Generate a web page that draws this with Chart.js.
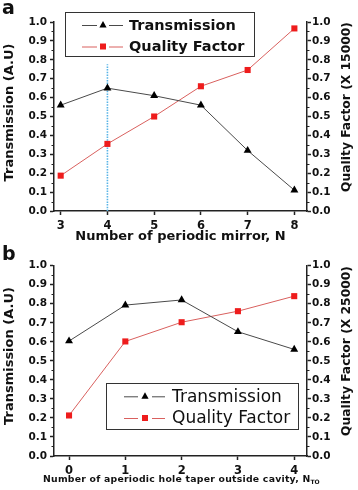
<!DOCTYPE html>
<html>
<head>
<meta charset="utf-8">
<script src="https://cdn.jsdelivr.net/npm/chart.js@4.4.1/dist/chart.umd.min.js"></script>
<style>
  html, body { margin:0; padding:0; background:#fff; }
  #wrap { position:relative; width:358px; height:490px; overflow:hidden; font-family:"DejaVu Sans", sans-serif; }
  .panel { position:absolute; left:0; width:358px; height:245px; }
  .lbl { position:absolute; font-weight:bold; font-size:19px; color:#111; line-height:1; }
  #xtitleB { position:absolute; left:43px; top:474px; font-weight:bold; font-size:9.3px; letter-spacing:0.25px; color:#111; white-space:nowrap; line-height:1; }
  #xtitleB sub { font-size:6px; vertical-align:-2px; letter-spacing:0; }
</style>
</head>
<body>
<div id="wrap">
  <div class="panel" style="top:0"><canvas id="cA" width="358" height="245"></canvas></div>
  <div class="panel" style="top:245px"><canvas id="cB" width="358" height="245"></canvas></div>
  <div class="lbl" style="left:2px;top:-2px">a</div>
  <div class="lbl" style="left:2px;top:244px">b</div>
  <div id="xtitleB">Number of aperiodic hole taper outside cavity, N<sub>TO</sub></div>
</div>
<script>
// ---- data ----
const nMirror = [3, 4, 5, 6, 7, 8];
const transA  = [0.56, 0.65, 0.61, 0.56, 0.32, 0.11];
const qualA   = [0.187, 0.355, 0.50, 0.66, 0.746, 0.966];
const nTaper  = [0, 1, 2, 3, 4];
const transB  = [0.604, 0.793, 0.82, 0.653, 0.56];
const qualB   = [0.213, 0.602, 0.703, 0.761, 0.84];
const yTickVals = [0, 0.1, 0.2, 0.3, 0.4, 0.5, 0.6, 0.7, 0.8, 0.9, 1.0];
const markerN = [4, 4];
const markerY = [0, 0.777];
const seriesNames = ['Transmission', 'Quality Factor'];
const leftTitle = 'Transmission (A.U)';
const rightTitleA = 'Quality Factor (X 15000)';
const rightTitleB = 'Quality Factor (X 25000)';
const xTitleA = 'Number of periodic mirror, N';

Chart.defaults.font.family = '"DejaVu Sans", sans-serif';
Chart.defaults.color = '#111';

const AXIS = '#222';
const BLACK_LINE = '#4a4a4a';
const RED_LINE = '#d9605e';
const RED_PT = '#ee1c1c';

const tickFont = { family: '"DejaVu Sans", sans-serif', size: 10.5, weight: 'bold' };
const xTickFont = { family: '"DejaVu Sans", sans-serif', size: 11.5, weight: 'bold' };

function yAxis(pos) {
  return {
    position: pos, min: 0, max: 1,
    afterBuildTicks: s => { s.ticks = yTickVals.map(v => ({ value: v })); },
    border: { display: true, color: AXIS, width: 1.5 },
    grid: { display: true, drawOnChartArea: false, drawTicks: true, tickLength: 4, tickColor: AXIS, tickWidth: 1.5 },
    ticks: { font: tickFont, color: '#111', padding: pos === 'left' ? 3 : 1, callback: v => Number(v).toFixed(1) },
    title: { display: false },
    afterFit: s => { s.width = pos === 'left' ? 54 : 51; }
  };
}

const minorTicks = {
  id: 'minorTicks',
  afterDraw(chart) {
    const ctx = chart.ctx;
    const ca = chart.chartArea;
    ctx.save();
    ctx.strokeStyle = AXIS; ctx.lineWidth = 1;
    ['y', 'y2'].forEach(id => {
      const sc = chart.scales[id];
      for (let i = 0; i < yTickVals.length - 1; i++) {
        const v = (yTickVals[i] + yTickVals[i + 1]) / 2;
        const p = Math.round(sc.getPixelForValue(v)) + 0.5;
        ctx.beginPath();
        if (id === 'y') { ctx.moveTo(ca.left, p); ctx.lineTo(ca.left - 2.5, p); }
        else { ctx.moveTo(ca.right, p); ctx.lineTo(ca.right + 2.5, p); }
        ctx.stroke();
      }
    });
    ctx.restore();
  }
};

// vertical axis titles, both reading bottom-to-top as in the reference
const sideTitles = {
  id: 'sideTitles',
  afterDraw(chart, args, opts) {
    const ctx = chart.ctx;
    ctx.save();
    ctx.fillStyle = '#111';
    ctx.textAlign = 'center';
    ctx.textBaseline = 'middle';
    opts.items.forEach(it => {
      ctx.save();
      ctx.translate(it.x, it.y);
      ctx.rotate(-Math.PI / 2);
      ctx.font = it.font;
      ctx.fillText(it.text, 0, 0);
      ctx.restore();
    });
    ctx.restore();
  }
};

const boxLegend = {
  id: 'boxLegend',
  afterDraw(chart, args, opts) {
    const ctx = chart.ctx;
    ctx.save();
    ctx.strokeStyle = '#333'; ctx.lineWidth = 1;
    ctx.strokeRect(opts.x1 + 0.5, opts.y1 + 0.5, opts.x2 - opts.x1, opts.y2 - opts.y1);
    const dsList = chart.data.datasets.slice(0, 2);
    dsList.forEach((ds, i) => {
      const y = opts.rows[i];
      ctx.strokeStyle = ds.borderColor; ctx.lineWidth = 1;
      ctx.beginPath();
      ctx.moveTo(opts.l1[0], y + 0.5); ctx.lineTo(opts.l1[1], y + 0.5);
      ctx.moveTo(opts.l2[0], y + 0.5); ctx.lineTo(opts.l2[1], y + 0.5);
      ctx.stroke();
      ctx.fillStyle = ds.pointBackgroundColor;
      if (ds.pointStyle === 'triangle') {
        const r = 4;
        ctx.beginPath();
        ctx.moveTo(opts.mx, y - r);
        ctx.lineTo(opts.mx + r * 0.9, y + r * 0.6);
        ctx.lineTo(opts.mx - r * 0.9, y + r * 0.6);
        ctx.closePath(); ctx.fill();
      } else {
        ctx.fillRect(opts.mx - 3, y - 3, 6, 6);
      }
      ctx.fillStyle = '#111';
      ctx.font = opts.font;
      ctx.textBaseline = 'middle';
      ctx.fillText(ds.label, opts.tx, y + 1);
    });
    ctx.restore();
  }
};

function makeChart(canvasId, xs, trans, qual, xmin, xmax, xTitle, titles, legendOpts, topPad, withMarker) {
  const datasets = [
    { label: seriesNames[0], data: xs.map((x, i) => ({ x, y: trans[i] })), yAxisID: 'y',
      borderColor: BLACK_LINE, borderWidth: 1, pointStyle: 'triangle', pointRadius: 4.6,
      pointBackgroundColor: '#000', pointBorderColor: '#000', pointBorderWidth: 0, clip: false },
    { label: seriesNames[1], data: xs.map((x, i) => ({ x, y: qual[i] })), yAxisID: 'y2',
      borderColor: RED_LINE, borderWidth: 1, pointStyle: 'rect', pointRadius: 4.3,
      pointBackgroundColor: RED_PT, pointBorderColor: RED_PT, pointBorderWidth: 0, clip: false }
  ];
  if (withMarker) {
    datasets.push({ label: 'marker', data: markerN.map((x, i) => ({ x, y: markerY[i] })), yAxisID: 'y',
      borderColor: '#58b4e6', borderWidth: 1.6, borderDash: [1.5, 1.2], pointRadius: 0, order: 5 });
  }
  return new Chart(document.getElementById(canvasId), {
    type: 'line',
    data: { datasets },
    options: {
      responsive: false, animation: false,
      layout: { padding: { top: topPad, left: 0, right: 0, bottom: 0 } },
      plugins: { legend: { display: false }, tooltip: { enabled: false }, boxLegend: legendOpts, sideTitles: { items: titles } },
      scales: {
        x: {
          type: 'linear', min: xmin, max: xmax,
          afterBuildTicks: s => { s.ticks = xs.map(v => ({ value: v })); },
          border: { display: true, color: AXIS, width: 1.5 },
          grid: { display: true, drawOnChartArea: false, drawTicks: true, tickLength: 4, tickColor: AXIS, tickWidth: 1.5 },
          ticks: { font: xTickFont, color: '#111', padding: 4, maxRotation: 0, autoSkip: false },
          title: { display: !!xTitle, text: xTitle || '', font: { size: 13, weight: 'bold' }, color: '#111', padding: { top: 0, bottom: 1 } },
          afterFit: s => { s.height = 34; }
        },
        y: yAxis('left'),
        y2: yAxis('right')
      }
    },
    plugins: [minorTicks, sideTitles, boxLegend]
  });
}

makeChart('cA', nMirror, transA, qualA, 2.857, 8.27, xTitleA,
  [ { text: leftTitle, x: 10, y: 112.5, font: 'bold 13px "DejaVu Sans"' },
    { text: rightTitleA, x: 347, y: 107, font: 'bold 12.3px "DejaVu Sans"' } ],
  { x1: 65, y1: 12, x2: 254, y2: 56, rows: [25, 46.5], l1: [82, 97], l2: [109, 123], mx: 103, tx: 129,
    font: 'bold 14.5px "DejaVu Sans"' }, 22, true);

makeChart('cB', nTaper, transB, qualB, -0.267, 4.227, '',
  [ { text: leftTitle, x: 10, y: 111, font: 'bold 13px "DejaVu Sans"' },
    { text: rightTitleB, x: 347, y: 106, font: 'bold 12.3px "DejaVu Sans"' } ],
  { x1: 106, y1: 138, x2: 298, y2: 184, rows: [151.3, 173], l1: [124, 138], l2: [152, 165], mx: 145, tx: 172,
    font: '17px "DejaVu Sans"' }, 20.7, false);
</script>
</body>
</html>
